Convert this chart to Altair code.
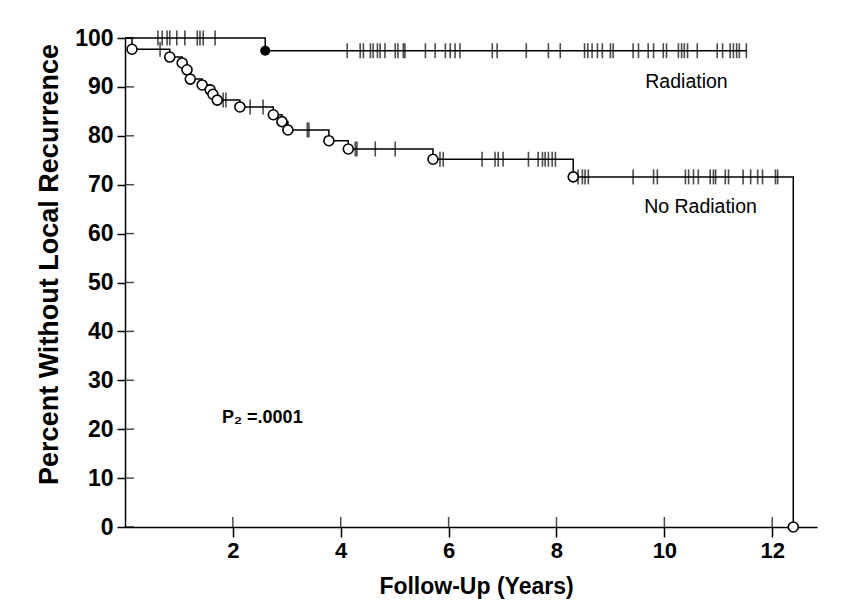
import altair as alt
import pandas as pd

# ---------------- data ----------------
# Radiation group: Kaplan-Meier step curve
rad_t = [0, 2.6, 11.52]
rad_s = [100, 97.4, 97.4]
rad_event_t = [2.6]
rad_event_s = [97.4]
# censoring ticks (times) on the Radiation curve
rad_cens_t = [0.61, 0.69, 0.78, 0.83, 0.96, 1.11, 1.34, 1.39, 1.45, 1.67,
              4.12, 4.36, 4.42, 4.55, 4.60, 4.68, 4.73, 4.82, 5.01, 5.06,
              5.16, 5.19, 5.57, 5.75, 5.94, 6.03, 6.12, 6.21, 6.81, 6.90,
              7.44, 7.85, 8.07, 8.52, 8.58, 8.66, 8.76, 8.85, 9.00, 9.05,
              9.42, 9.52, 9.70, 9.80, 9.98, 10.04, 10.26, 10.32, 10.37,
              10.43, 10.61, 10.98, 11.08, 11.22, 11.28, 11.34, 11.39, 11.52]

# No Radiation group: Kaplan-Meier step curve (events)
nr_t = [0, 0.13, 0.83, 1.06, 1.15, 1.21, 1.43, 1.58, 1.63, 1.71, 2.13,
        2.75, 2.91, 3.02, 3.78, 4.14, 5.71, 8.31, 12.39]
nr_s = [100, 97.7, 96.1, 94.9, 93.5, 91.6, 90.4, 89.4, 88.5, 87.3, 85.9,
        84.3, 82.9, 81.2, 79.0, 77.3, 75.2, 71.6, 0]
nr_cens_t = [0.65, 1.82, 1.87, 2.32, 2.56, 3.38, 3.41, 4.27, 4.30, 4.64, 5.01,
             5.84, 5.90, 6.62, 6.86, 6.92, 7.01, 7.48, 7.66, 7.74, 7.79,
             7.85, 7.92, 7.98, 8.40, 8.48, 8.53, 8.59, 9.42, 9.80, 9.87,
             10.39, 10.45, 10.54, 10.63, 10.85, 10.91, 10.95, 11.13, 11.19,
             11.46, 11.60, 11.73, 11.82, 12.06, 12.10]

y_ticks = [0, 10, 20, 30, 40, 50, 60, 70, 80, 90, 100]
x_ticks = [2, 4, 6, 8, 10, 12]

labels_text = ["Radiation", "No Radiation"]
labels_t = [10.41, 10.67]
labels_s = [91.0, 65.4]
p_text = ["P\u2082 =.0001"]
p_t = [1.80]
p_s = [22.3]


def km_level(times, surv, t):
    """Value of the step curve at time t (step-after)."""
    level = surv[0]
    for ti, si in zip(times, surv):
        if ti <= t:
            level = si
    return level


lines_df = pd.DataFrame(
    {"t": rad_t + nr_t, "s": rad_s + nr_s,
     "g": ["Radiation"] * len(rad_t) + ["No Radiation"] * len(nr_t)}
)
rad_ev_df = pd.DataFrame({"t": rad_event_t, "s": rad_event_s})
nr_ev_df = pd.DataFrame({"t": nr_t[1:], "s": nr_s[1:]})
cens_df = pd.DataFrame(
    {"t": rad_cens_t + nr_cens_t,
     "s": [km_level(rad_t, rad_s, t) for t in rad_cens_t]
     + [km_level(nr_t, nr_s, t) for t in nr_cens_t]}
)
lab_df = pd.DataFrame({"t": labels_t, "s": labels_s, "txt": labels_text})
p_df = pd.DataFrame({"t": p_t, "s": p_s, "txt": p_text})
ytick_df = pd.DataFrame({"s": y_ticks})
xtick_df = pd.DataFrame({"t": x_ticks})

W, H = 692, 489
FONT = "Liberation Sans"

xs = alt.Scale(domain=[0, 12.83], nice=False, zero=False)
ys = alt.Scale(domain=[0, 100], nice=False)

main_x_axis = alt.Axis(values=x_ticks, title="Follow-Up (Years)", grid=False,
                       tickSize=10, labelPadding=3, titlePadding=14,
                       titleX=351,
                       labelFontSize=22, titleFontSize=23)
main_y_axis = alt.Axis(values=y_ticks, title="Percent Without Local Recurrence",
                       grid=False, tickSize=8, labelPadding=4, titlePadding=11,
                       titleY=226,
                       labelFontSize=23, titleFontSize=27)

X = alt.X("t:Q", scale=xs, axis=main_x_axis)
Y = alt.Y("s:Q", scale=ys, axis=main_y_axis)

lines = alt.Chart(lines_df).mark_line(
    interpolate="step-after", color="black", strokeWidth=1.5
).encode(x=X, y=Y, detail="g:N")

# inner halves of the crossing axis ticks
y_inner = alt.Chart(ytick_df).mark_tick(
    orient="horizontal", color="black", size=9, thickness=1.5
).encode(y=Y, x=alt.value(4.5))
x_inner = alt.Chart(xtick_df).mark_tick(
    orient="vertical", color="black", size=10, thickness=1.5
).encode(x=X, y=alt.value(H - 5))

cens = alt.Chart(cens_df).mark_tick(
    orient="vertical", color="black", size=15, thickness=1.6
).encode(x=X, y=Y)

nr_pts = alt.Chart(nr_ev_df).mark_point(
    shape="circle", filled=True, fill="white", stroke="black",
    strokeWidth=1.6, size=100, opacity=1
).encode(x=X, y=Y)

rad_pts = alt.Chart(rad_ev_df).mark_point(
    shape="circle", filled=True, color="black", size=100, opacity=1
).encode(x=X, y=Y)

labels = alt.Chart(lab_df).mark_text(
    font=FONT, fontSize=19.5, color="black", align="center", baseline="middle"
).encode(x=X, y=Y, text="txt:N")

ptxt = alt.Chart(p_df).mark_text(
    font=FONT, fontSize=18, fontWeight="bold", color="black",
    align="left", baseline="middle"
).encode(x=X, y=Y, text="txt:N")

chart = alt.layer(lines, y_inner, x_inner, cens, nr_pts, rad_pts, labels, ptxt).properties(
    width=W, height=H,
    autosize=alt.AutoSizeParams(type="none"),
    padding={"left": 117, "top": 30, "right": 21, "bottom": 80},
    background="white",
).configure_view(
    stroke=None
).configure_axis(
    domainColor="black", domainWidth=1.5, tickColor="black", tickWidth=1.5,
    labelColor="black", titleColor="black", labelFont=FONT, titleFont=FONT,
    labelFontWeight="bold", titleFontWeight="bold",
)

chart.save("out.html", embed_options={"renderer": "svg", "actions": False})
